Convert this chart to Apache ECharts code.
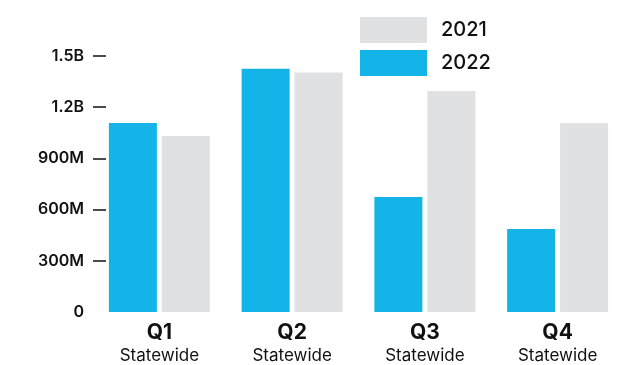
<!DOCTYPE html>
<html><head><meta charset="utf-8">
<script src="https://cdn.jsdelivr.net/npm/echarts@6/dist/echarts.min.js"></script>
<style>html,body{margin:0;padding:0;background:#fff}#c{width:631px;height:365px}</style>
</head><body><div id="c"></div>
<script>
const categories = ['Q1','Q2','Q3','Q4'];
const subLabel = 'Statewide';
const values2022 = [1107, 1425, 674, 486]; // millions
const values2021 = [1031, 1403, 1295, 1107]; // millions
const yTicks = [0, 300, 600, 900, 1200, 1500];

const chart = echarts.init(document.getElementById('c'));
chart.setOption({
  animation: false,
  textStyle: {fontFamily: 'Inter'},
  grid: {left: 93, right: 7, top: 56, bottom: 53, containLabel: false},
  legend: {
    orient: 'vertical', left: 360, top: 17, padding: 0,
    itemWidth: 67, itemHeight: 26, itemGap: 7,
    data: ['2021','2022'],
    icon: 'rect',
    textStyle: {fontSize: 20, fontWeight: 500, color: '#111', padding: [0,0,0,9], letterSpacing: 0.5}
  },
  xAxis: {
    type: 'category', data: categories,
    axisLine: {show: false}, axisTick: {show: false},
    axisLabel: {
      margin: 9,
      formatter: v => '{a|' + v + '}\n{b|' + subLabel + '}',
      rich: {
        a: {fontSize: 21, fontWeight: 700, color: '#111', lineHeight: 24},
        b: {fontSize: 17, fontWeight: 400, color: '#111', lineHeight: 22, letterSpacing: 1.2}
      }
    }
  },
  yAxis: {
    type: 'value', min: 0, max: 1500, interval: 300,
    splitLine: {show: false}, axisLine: {show: false},
    axisTick: {show: true, inside: true, length: 13, customValues: yTicks.slice(1), lineStyle: {color: '#111', width: 1.5}},
    axisLabel: {
      margin: 9, fontSize: 16, fontWeight: 600, color: '#111', letterSpacing: 0.8,
      customValues: yTicks,
      formatter: v => v === 0 ? '0' : (v < 1000 ? v + 'M' : (v / 1000) + 'B')
    }
  },
  series: [
    {name: '2022', type: 'bar', data: values2022, barWidth: 48, barGap: '10.4%', itemStyle: {color: '#15b4e8'}},
    {name: '2021', type: 'bar', data: values2021, barWidth: 48, itemStyle: {color: '#e0e1e3'}}
  ]
});
</script></body></html>
